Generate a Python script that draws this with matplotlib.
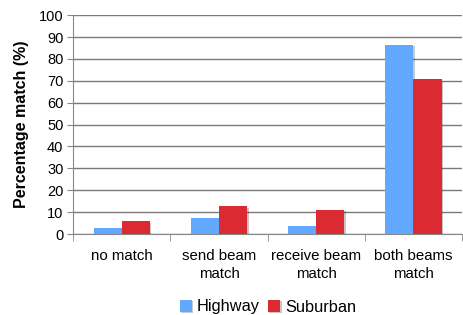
import numpy as np
import matplotlib
matplotlib.use("Agg")
import matplotlib.pyplot as plt
import matplotlib.patheffects as pe

plt.rcParams['font.family'] = ['Liberation Sans', 'DejaVu Sans']

categories = ["no match", "send beam\nmatch", "receive beam\nmatch", "both beams\nmatch"]
highway = [2.8, 7.5, 3.8, 86.4]
suburban = [5.8, 12.6, 11.2, 70.6]
series_names = ["Highway", "Suburban"]
yticks = list(range(0, 101, 10))

fig = plt.figure(figsize=(4.63, 3.15), dpi=100)
ax = fig.add_axes([0.158, 0.257, 0.84, 0.695])

x = np.arange(len(categories))
w = 0.29
shadow = [pe.SimplePatchShadow(offset=(1, -1), alpha=0.25), pe.Normal()]
ax.bar(x - w / 2, highway, w, color='#63a8ff', label=series_names[0], zorder=3,
       path_effects=shadow)
ax.bar(x + w / 2, suburban, w, color='#dc2a33', label=series_names[1], zorder=3,
       path_effects=shadow)

ax.set_xlim(-0.5, len(categories) - 0.5)
ax.set_ylim(0, 100)
ax.set_yticks(yticks)
ax.tick_params(axis='y', labelsize=10.5, length=4, color='#888888', pad=3)
ax.yaxis.grid(True, color='#7a7a7a', linewidth=1, zorder=0)

# category labels centred, ticks on boundaries
ax.set_xticks(x)
ax.set_xticklabels(categories, fontsize=10.8, linespacing=1.3)
ax.tick_params(axis='x', length=0, pad=11)
ax.set_xticks(np.arange(len(categories) + 1) - 0.5, minor=True)
ax.tick_params(axis='x', which='minor', length=5, color='#888888')

for s in ['top', 'right']:
    ax.spines[s].set_visible(False)
for s in ['left', 'bottom']:
    ax.spines[s].set_color('#888888')

ax.set_ylabel("Percentage match (%)", fontsize=11.5, fontweight='bold', labelpad=7)

fig.legend(loc='center', bbox_to_anchor=(268 / 463, 1 - 307 / 315), ncol=2,
           frameon=False, fontsize=11.8, handlelength=0.75, handleheight=0.75,
           handletextpad=0.3, columnspacing=0.5, borderpad=0)

fig.savefig("out.png", dpi=100)
